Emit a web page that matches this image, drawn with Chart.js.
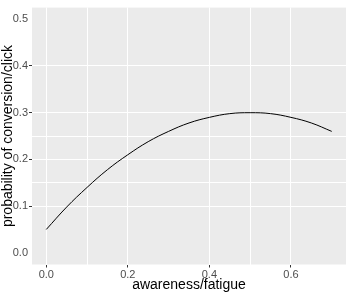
<!DOCTYPE html>
<html>
<head>
<meta charset="utf-8">
<script src="https://cdn.jsdelivr.net/npm/chart.js@4/dist/chart.umd.min.js"></script>
<style>
  html, body { margin: 0; padding: 0; background: #fff; }
  #wrap { width: 346px; height: 294px; }
</style>
</head>
<body>
<div id="wrap"><canvas id="myChart"></canvas></div>
<script>
// values
const awareness = [0, 0.05, 0.1, 0.15, 0.2, 0.25, 0.3, 0.35, 0.4, 0.45, 0.5, 0.55, 0.6, 0.65, 0.7];
const probability = [0.05, 0.098, 0.14, 0.178, 0.21, 0.238, 0.26, 0.278, 0.29, 0.298, 0.3, 0.298, 0.29, 0.278, 0.26];
// ticks as they appear in the picture ('' = gridline only)
const xTicks = [0, 0.1, 0.2, 0.4, 0.5, 0.6];
const xLabels = ['0.0', '', '0.2', '0.4', '', '0.6'];
const yTicks = [0, 0.1, 0.15, 0.2, 0.25, 0.3, 0.4, 0.5];
const yLabels = ['0.0', '0.1', '', '0.2', '', '0.3', '0.4', '0.5'];
// ticks without a gridline / tick mark
const yNoGrid = [0, 0.5];

const points = awareness.map((x, i) => ({ x: x, y: probability[i] }));

const panelBg = {
    id: 'panelBg',
    beforeDraw(chart) {
        const a = chart.chartArea;
        const ctx = chart.ctx;
        ctx.save();
        ctx.fillStyle = '#ebebeb';
        ctx.fillRect(a.left, a.top, a.right - a.left, a.bottom - a.top);
        ctx.restore();
    }
};

const clear = 'rgba(0,0,0,0)';

function xGrid(c) {
    return '#fff';
}
function yGrid(c) {
    if (!c.tick) return '#fff';
    return yNoGrid.includes(c.tick.value) ? clear : '#fff';
}
function xTickColor(c) {
    return xLabels[c.index] ? '#333333' : clear;
}
function yTickColor(c) {
    if (!c.tick) return clear;
    if (yNoGrid.includes(c.tick.value)) return clear;
    return yLabels[c.index] ? '#333333' : clear;
}

const ctx = document.getElementById('myChart').getContext('2d');
const myChart = new Chart(ctx, {
    type: 'scatter',
    data: {
        datasets: [{
            data: points,
            showLine: true,
            borderColor: '#000',
            borderWidth: 1,
            pointRadius: 0,
            tension: 0.4,
            fill: false
        }]
    },
    options: {
        responsive: true,
        maintainAspectRatio: false,
        animation: false,
        layout: { padding: { top: 4, right: 0, left: 0, bottom: 0 } },
        plugins: { legend: { display: false }, tooltip: { enabled: false } },
        scales: {
            x: {
                type: 'linear',
                min: -0.035,
                max: 0.735,
                afterBuildTicks: (s) => { s.ticks = xTicks.map(v => ({ value: v })); },
                afterFit: (s) => { s.height = 29.5; },
                border: { display: false },
                grid: {
                    color: xGrid,
                    lineWidth: 1,
                    tickLength: 3,
                    tickColor: xTickColor
                },
                ticks: {
                    autoSkip: false,
                    maxRotation: 0,
                    padding: 1,
                    color: '#4d4d4d',
                    font: { family: 'Liberation Sans', size: 11 },
                    callback: (v, i) => xLabels[i]
                },
                title: {
                    display: true,
                    text: 'awareness/fatigue',
                    color: '#000',
                    font: { family: 'Liberation Sans', size: 14, lineHeight: 1.1 },
                    padding: { top: 0, bottom: 1 }
                }
            },
            y: {
                min: -0.025,
                max: 0.525,
                afterBuildTicks: (s) => { s.ticks = yTicks.map(v => ({ value: v })); },
                afterFit: (s) => { s.width = 32; },
                border: { display: false },
                grid: {
                    color: yGrid,
                    lineWidth: 1,
                    tickLength: 3,
                    tickColor: yTickColor
                },
                ticks: {
                    autoSkip: false,
                    padding: 1,
                    color: '#4d4d4d',
                    font: { family: 'Liberation Sans', size: 11 },
                    callback: (v, i) => yLabels[i]
                },
                title: {
                    display: true,
                    text: 'probability of conversion/click',
                    color: '#000',
                    font: { family: 'Liberation Sans', size: 14, lineHeight: 1.1 },
                    padding: { top: 0, bottom: 0 }
                }
            }
        }
    },
    plugins: [panelBg]
});
</script>
</body>
</html>
